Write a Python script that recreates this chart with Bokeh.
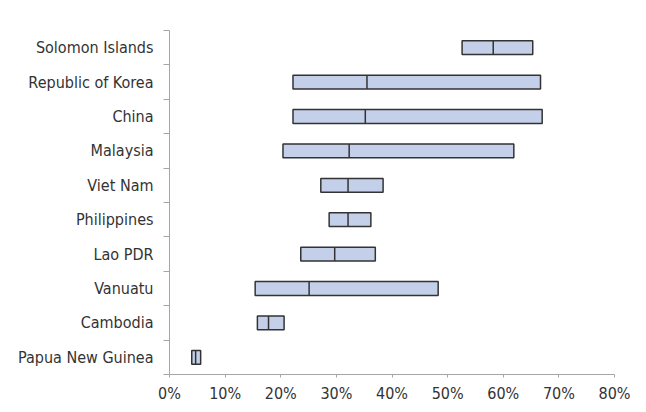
from bokeh.plotting import figure
from bokeh.models import ColumnDataSource, FixedTicker, NumeralTickFormatter, Range1d
from bokeh.embed import file_html
from bokeh.resources import INLINE

# Data (top to bottom as shown)
countries = ["Solomon Islands", "Republic of Korea", "China", "Malaysia", "Viet Nam",
             "Philippines", "Lao PDR", "Vanuatu", "Cambodia", "Papua New Guinea"]
low = [0.526, 0.222, 0.222, 0.204, 0.272, 0.287, 0.236, 0.154, 0.158, 0.040]
median = [0.582, 0.355, 0.352, 0.323, 0.321, 0.321, 0.297, 0.251, 0.178, 0.047]
high = [0.653, 0.667, 0.670, 0.619, 0.384, 0.362, 0.370, 0.483, 0.206, 0.056]
x_ticks = [0, 0.1, 0.2, 0.3, 0.4, 0.5, 0.6, 0.7, 0.8]

n = len(countries)
ypos = [n - 1 - i + 0.5 for i in range(n)]
bar_h = 0.4

src = ColumnDataSource(dict(
    y=ypos, low=low, high=high, med=median,
    y0=[y - bar_h / 2 for y in ypos], y1=[y + bar_h / 2 for y in ypos],
))

FONT = "DejaVu Sans Condensed"

p = figure(width=646, height=412, output_backend="svg", toolbar_location=None,
           x_range=Range1d(0, 0.8), y_range=Range1d(0, n),
           min_border_left=169, min_border_right=32, min_border_top=30, min_border_bottom=38)
p.outline_line_color = None
p.xgrid.visible = False
p.ygrid.visible = False
p.background_fill_color = "white"
p.border_fill_color = "white"

p.hbar(y="y", left="low", right="high", height=bar_h, source=src,
       fill_color="#C4CFE9", line_color="#333333", line_width=1.5)
p.segment(x0="med", x1="med", y0="y0", y1="y1", source=src,
          line_color="#333333", line_width=1.5)

# x axis
xa = p.xaxis[0]
xa.ticker = FixedTicker(ticks=x_ticks)
xa.formatter = NumeralTickFormatter(format="0%")
xa.axis_line_color = "#A6A6A6"
xa.major_tick_line_color = "#A6A6A6"
xa.major_tick_out = 3
xa.major_tick_in = 0
xa.minor_tick_line_color = None
xa.major_label_text_font = FONT
xa.major_label_text_font_size = "16px"
xa.major_label_text_color = "#333333"
xa.major_label_standoff = 6

# y axis: labels at band centres, ticks at band boundaries
ya = p.yaxis[0]
ya.ticker = FixedTicker(ticks=ypos, minor_ticks=list(range(n + 1)))
ya.major_label_overrides = {y: c for y, c in zip(ypos, countries)}
ya.axis_line_color = "#A6A6A6"
ya.major_tick_line_color = None
ya.major_tick_out = 0
ya.major_tick_in = 0
ya.minor_tick_line_color = "#A6A6A6"
ya.minor_tick_out = 6
ya.minor_tick_in = 0
ya.major_label_text_font = FONT
ya.major_label_text_font_size = "16px"
ya.major_label_text_color = "#333333"
ya.major_label_standoff = 10

open("out.html", "w").write(file_html(p, INLINE))
